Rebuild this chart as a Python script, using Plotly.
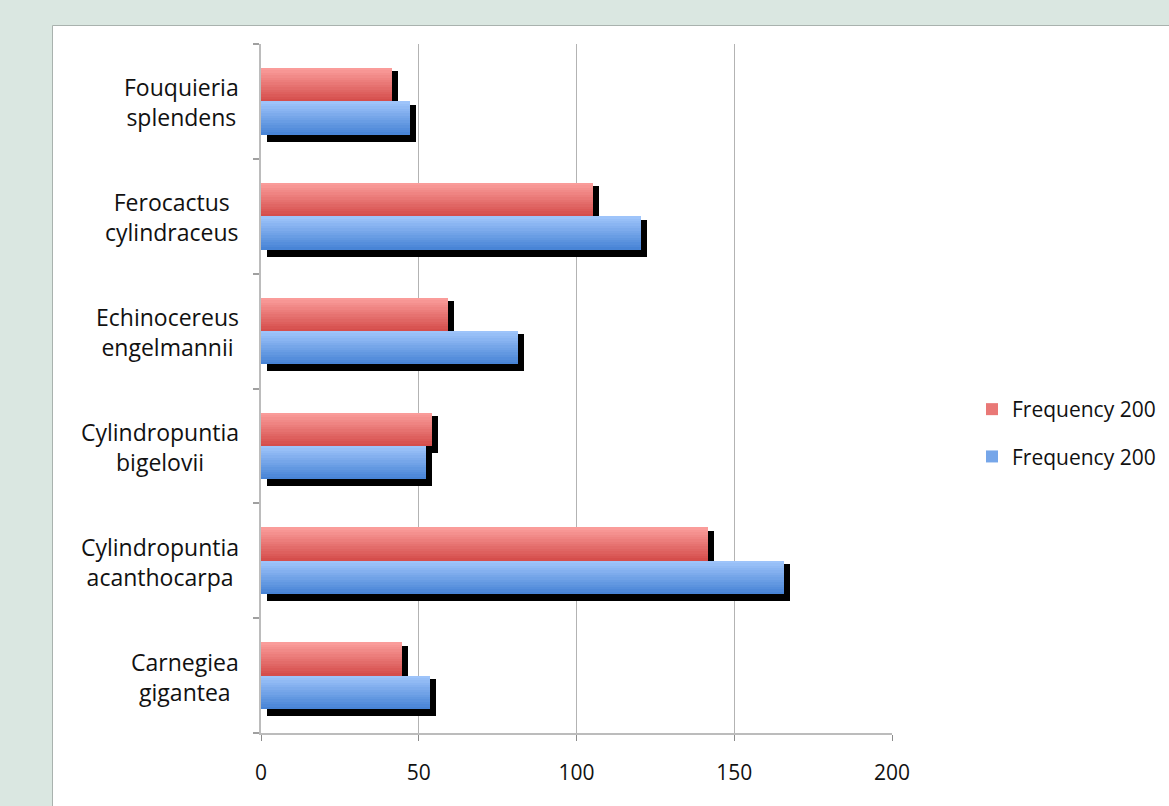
import plotly.graph_objects as go

# ---------------- data ----------------
categories = ["Carnegiea gigantea", "Cylindropuntia acanthocarpa", "Cylindropuntia bigelovii",
              "Echinocereus engelmannii", "Ferocactus cylindraceus", "Fouquieria splendens"]
category_labels = ["Carnegiea<br>gigantea", "Cylindropuntia<br>acanthocarpa", "Cylindropuntia<br>bigelovii",
                   "Echinocereus<br>engelmannii", "Ferocactus<br>cylindraceus", "Fouquieria<br>splendens"]
freq_red = [44.6, 141.8, 54.2, 59.2, 105.3, 41.5]
freq_blue = [53.5, 165.8, 52.3, 81.5, 120.4, 47.2]
series_names = ["Frequency 200", "Frequency 200"]
x_ticks = [0, 50, 100, 150, 200]

# ---------------- layout constants ----------------
W, H = 1169, 806
ML, MR, MT, MB = 261, 277, 44, 73
PW = W - ML - MR
PH = H - MT - MB
PX_PER_UNIT = PW / 200.0
CAT_PX = PH / 6.0

BAR_W = 0.29
SHADOW_DX = 6.0 / PX_PER_UNIT
SHADOW_TOP = 3.3 / CAT_PX
SHADOW_BOT = 7.0 / CAT_PX

FONT = "Open Sans, Lato, sans-serif"

def lerp(c1, c2, t):
    return "rgb(%d,%d,%d)" % tuple(round(a + (b - a) * t) for a, b in zip(c1, c2))

RED_DARK, RED_LIGHT = (213, 78, 76), (250, 156, 154)
BLUE_DARK, BLUE_LIGHT = (72, 132, 214), (158, 196, 250)

fig = go.Figure()

# shadows
for vals, off in [(freq_red, 0.0), (freq_blue, -BAR_W)]:
    fig.add_trace(go.Bar(
        x=vals, y=categories, orientation="h", base=SHADOW_DX,
        offset=off - SHADOW_BOT, width=BAR_W + SHADOW_BOT - SHADOW_TOP,
        marker=dict(color="black", line=dict(width=0)),
        showlegend=False, hoverinfo="skip"))

# gradient bars (nested slices, dark bottom -> light top)
K = 14
for vals, off, dark, light, name, grp in [
        (freq_red, 0.0, RED_DARK, RED_LIGHT, series_names[0], "r"),
        (freq_blue, -BAR_W, BLUE_DARK, BLUE_LIGHT, series_names[1], "b")]:
    for k in range(K):
        t = k / (K - 1)
        start = off + BAR_W * k / K
        fig.add_trace(go.Bar(
            x=vals, y=categories, orientation="h",
            offset=start, width=off + BAR_W - start,
            marker=dict(color=lerp(dark, light, t), line=dict(width=0)),
            name=name, legendgroup=grp, showlegend=(k == K // 2),
            hoverinfo="x+name"))

# category labels (centred lines, right-aligned block)
for cat, lab in zip(categories, category_labels):
    fig.add_annotation(x=(241 - ML) / PW, xref="paper", y=cat, yref="y", yshift=-1,
                       text=lab, showarrow=False, xanchor="right", yanchor="middle",
                       align="center", font=dict(family=FONT, size=23, color="#111111"))

# white chart panel
fig.add_shape(type="rect", xref="paper", yref="paper",
              x0=(52.5 - ML) / PW, x1=(W + 20 - ML) / PW,
              y0=-(MB + 20) / PH, y1=(PH + MT - 25.5) / PH,
              fillcolor="white", line=dict(color="#a9b2ae", width=1), layer="below")

fig.update_layout(
    width=W, height=H,
    margin=dict(l=ML, r=MR, t=MT, b=MB, pad=0, autoexpand=False),
    paper_bgcolor="#dae7e1", plot_bgcolor="rgba(0,0,0,0)",
    barmode="overlay", bargap=0,
    font=dict(family=FONT, size=21, color="#111111"),
    showlegend=True,
    legend=dict(x=(972 - ML) / PW, xref="paper", y=(733 - 433) / PH, yanchor="middle", xanchor="left",
                font=dict(family=FONT, size=21, color="#111111"),
                traceorder="grouped", tracegroupgap=17, itemwidth=30,
                bgcolor="rgba(0,0,0,0)"),
    xaxis=dict(range=[0, 200], tickvals=x_ticks, ticktext=[str(v) for v in x_ticks],
               showgrid=True, gridcolor="#b3b3b3", gridwidth=1.2,
               zeroline=False, showline=True, linecolor="#bcbcbc", linewidth=2,
               ticks="outside", ticklen=6, tickcolor="#8c8c8c", tickwidth=1,
               ticklabelstandoff=14, tickfont=dict(family=FONT, size=21, color="#111111"),
               fixedrange=True),
    yaxis=dict(type="category", categoryorder="array", categoryarray=categories,
               range=[-0.5, 5.5], showticklabels=False, showgrid=False, zeroline=False,
               showline=True, linecolor="#bcbcbc", linewidth=2,
               ticks="outside", tickson="boundaries", ticklen=6, tickcolor="#a0a0a0", tickwidth=1.5,
               fixedrange=True),
)

fig.write_html("out.html")
